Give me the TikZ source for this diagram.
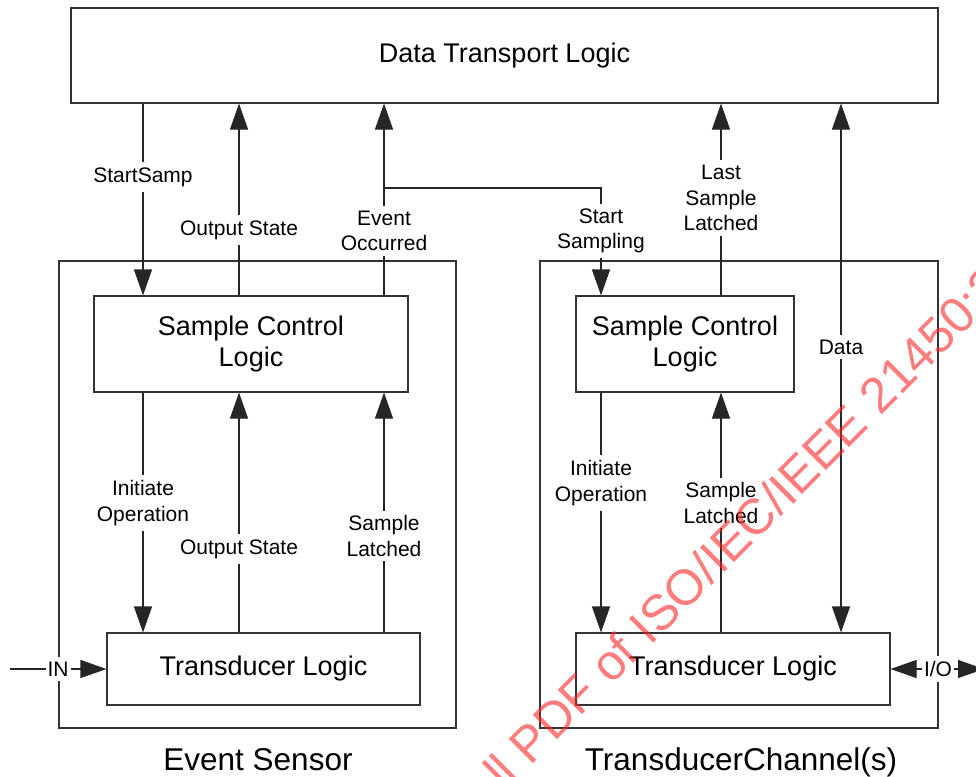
\documentclass[tikz,border=0pt]{standalone}
\usepackage{fontspec}
\setmainfont{Liberation Sans}
\usetikzlibrary{arrows.meta}
\begin{document}
\begin{tikzpicture}[x=1pt,y=-1pt,
  wire/.style={draw=black!85, line width=1.1pt},
  tip/.style={-{Triangle[length=26pt,width=18pt]}},
  both/.style={{Triangle[length=26pt,width=18pt]}-{Triangle[length=26pt,width=18pt]}},
  box/.style={draw=black!80, line width=1.1pt, fill=white, inner sep=0pt,
    align=center, font=\fontsize{27}{31}\selectfont},
  frame/.style={draw=black!80, line width=1.1pt, inner sep=0pt},
  lbl/.style={fill=white, inner xsep=3pt, inner ysep=5pt, align=center,
    font=\fontsize{21}{25.5}\selectfont},
  caption/.style={font=\fontsize{31.5}{36}\selectfont},
  wm/.style={text=red!85!white, opacity=0.6, font=\fontsize{50}{58}\selectfont}]
\useasboundingbox (0,0) rectangle (976,776);
\clip (0,0) rectangle (976,776);
\fill[white] (0,0) rectangle (976,776);

% columns of the vertical signal lines
\coordinate (xa) at (143,0);
\coordinate (xb) at (239,0);
\coordinate (xc) at (384,0);
\coordinate (xd) at (601,0);
\coordinate (xe) at (721,0);
\coordinate (xf) at (841,0);

% outer enclosures
\node[frame, minimum width=397pt, minimum height=467pt] (es) at (257.5,494.5) {};
\node[frame, minimum width=398pt, minimum height=467pt] (tc) at (739,494.5) {};

% logic blocks
\node[box, minimum width=867pt, minimum height=95pt] (dtl) at (504.5,55.5) {Data Transport Logic};
\node[box, minimum width=314pt, minimum height=96pt] (lscl) at (251,344) {Sample Control\\Logic};
\node[box, minimum width=313pt, minimum height=72pt] (ltl) at (263.5,669) {Transducer Logic};
\node[box, minimum width=218pt, minimum height=96pt] (rscl) at (685,344) {Sample Control\\Logic};
\node[box, minimum width=314pt, minimum height=72pt] (rtl) at (733,669) {Transducer Logic};

% captions
\node[caption, anchor=base] (cap1) at (258,770) {Event Sensor};
\node[caption, anchor=base] (cap2) at (741,770) {TransducerChannel(s)};

% event sensor signals
\draw[wire,tip] (dtl.south -| xa) -- (lscl.north -| xa);
\draw[wire,tip] (lscl.north -| xb) -- (dtl.south -| xb);
\draw[wire,tip] (lscl.north -| xc) -- (dtl.south -| xc);
\coordinate (jn) at (384,188);
\draw[wire,tip] (jn) -| (rscl.north -| xd);
\draw[wire,tip] (lscl.south -| xa) -- (ltl.north -| xa);
\draw[wire,tip] (ltl.north -| xb) -- (lscl.south -| xb);
\draw[wire,tip] (ltl.north -| xc) -- (lscl.south -| xc);
\coordinate (inx) at (10,669);
\draw[wire,tip] (inx) -- (ltl.west);

% transducer channel signals
\draw[wire,tip] (rscl.north -| xe) -- (dtl.south -| xe);
\draw[wire,both] (dtl.south -| xf) -- (rtl.north -| xf);
\draw[wire,tip] (rscl.south -| xd) -- (rtl.north -| xd);
\draw[wire,tip] (rtl.north -| xe) -- (rscl.south -| xe);
\coordinate (iox) at (984,669);
\draw[wire,both] (rtl.east) -- (iox);

% signal names
\node[lbl] (l1) at (143,177) {StartSamp};
\node[lbl] (l2) at (239,230) {Output State};
\node[lbl] (l3) at (384,231) {Event\\Occurred};
\node[lbl] (l4) at (601,231) {Start\\Sampling};
\node[lbl] (l5) at (721,198) {Last\\Sample\\Latched};
\node[lbl] (l6) at (841,347) {Data};
\node[lbl] (l7) at (143,503) {Initiate\\Operation};
\node[lbl] (l8) at (239,549) {Output State};
\node[lbl] (l9) at (384,536) {Sample\\Latched};
\node[lbl] (l10) at (601,483) {Initiate\\Operation};
\node[lbl] (l11) at (721,503) {Sample\\Latched};
\node[lbl, inner xsep=2pt] (l12) at (58,669) {IN};
\node[lbl, inner xsep=2pt] (l13) at (938,669) {I/O};

% stamp across the page
\node[wm, rotate=45, anchor=base west, inner sep=0pt] (stamp) at (505,792) {ll PDF of ISO/IEC/IEEE 21450:2010};
\end{tikzpicture}
\end{document}
